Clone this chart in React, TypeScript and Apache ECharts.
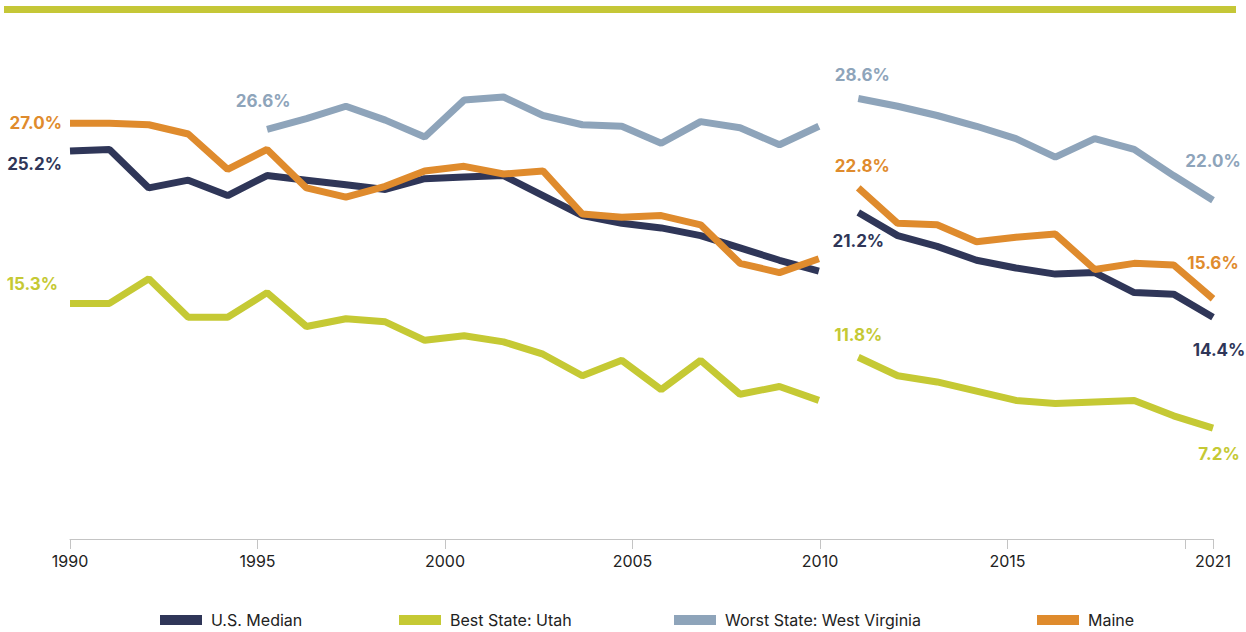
import React, { useEffect, useRef } from 'react';
import * as echarts from 'echarts';

// Hidden slot axis: one slot per plotted report (evenly spaced, as drawn in the original)
const slots = [
  '1990', '1991', '1992', '1993', '1994', '1995', '1996', '1997', '1998', '1999',
  '2000', '2001', '2002', '2003', '2004', '2005', '2006', '2007', '2008', '2009',
  '2012', '2013', '2014', '2015', '2016', '2017', '2018', '2019', '2020', '2021',
];

// Visible year axis tick labels
const yearTicks = [1990, 1995, 2000, 2005, 2010, 2015, 2019.75, 2020.48];
const yearTickLabels = ['1990', '1995', '2000', '2005', '2010', '2015', '', '2021'];

const seriesNames = ['U.S. Median', 'Best State: Utah', 'Worst State: West Virginia', 'Maine'];

const medianEarly = [25.2, 25.3, 22.8, 23.3, 22.3, 23.6, 23.3, 23.0, 22.7, 23.4, 23.5, 23.6, 22.3, 21.0, 20.5, 20.2, 19.7, 18.9, 18.1, 17.4];
const medianLate = [21.2, 19.7, 19.0, 18.1, 17.6, 17.2, 17.3, 16.0, 15.9, 14.4];

const utahEarly = [15.3, 15.3, 16.9, 14.4, 14.4, 16.0, 13.8, 14.3, 14.1, 12.9, 13.2, 12.8, 12.0, 10.6, 11.6, 9.7, 11.6, 9.4, 9.9, 9.0];
const utahLate = [11.8, 10.6, 10.2, 9.6, 9.0, 8.8, 8.9, 9.0, 8.0, 7.2];

const wvEarly = [null, null, null, null, null, 26.6, 27.3, 28.1, 27.2, 26.1, 28.5, 28.7, 27.5, 26.9, 26.8, 25.7, 27.1, 26.7, 25.6, 26.8];
const wvLate = [28.6, 28.1, 27.5, 26.8, 26.0, 24.8, 26.0, 25.3, 23.6, 22.0];

const maineEarly = [27.0, 27.0, 26.9, 26.3, 24.0, 25.3, 22.8, 22.2, 22.9, 23.9, 24.2, 23.7, 23.9, 21.1, 20.9, 21.0, 20.4, 17.9, 17.3, 18.2];
const maineLate = [22.8, 20.5, 20.4, 19.3, 19.6, 19.8, 17.5, 17.9, 17.8, 15.6];

const COLORS = ['#2f3658', '#c5c934', '#8ea4ba', '#df8b2d'];
const FONT = 'Inter, "Noto Sans", sans-serif';

type LabelSpec = { index: number; position: string; distance: number; offset?: number[] };

function buildData(values: (number | null)[], startSlot: number, color: string, labels: LabelSpec[]) {
  const out: any[] = [];
  for (let i = 0; i < startSlot; i++) out.push('-');
  values.forEach((v, i) => {
    if (v === null) {
      out.push('-');
      return;
    }
    const spec = labels.find((l) => l.index === i);
    if (spec) {
      out.push({
        value: v,
        label: {
          show: true,
          position: spec.position,
          distance: spec.distance,
          offset: spec.offset || [0, 0],
          formatter: (p: any) => `${Number(p.value).toFixed(1)}%`,
          color,
          fontFamily: FONT,
          fontWeight: 700,
          fontSize: 17,
        },
      });
    } else {
      out.push(v);
    }
  });
  return out;
}

function lineSeries(name: string, color: string, data: any[]) {
  return {
    name,
    type: 'line',
    xAxisIndex: 0,
    yAxisIndex: 0,
    data,
    showSymbol: true,
    symbol: 'circle',
    symbolSize: 0,
    connectNulls: false,
    silent: true,
    lineStyle: { color, width: 7 },
    itemStyle: { color },
    label: { show: false },
  };
}

export default function App() {
  const ref = useRef<HTMLDivElement>(null);

  useEffect(() => {
    if (!ref.current) return;
    const chart = echarts.init(ref.current, undefined, { renderer: 'svg' });
    const lateStart = medianEarly.length;

    const series = [
      lineSeries(seriesNames[0], COLORS[0], buildData(medianEarly, 0, COLORS[0], [
        { index: 0, position: 'left', distance: 8, offset: [0, 13] },
      ])),
      lineSeries(seriesNames[0], COLORS[0], buildData(medianLate, lateStart, COLORS[0], [
        { index: 0, position: 'bottom', distance: 20 },
        { index: medianLate.length - 1, position: 'bottom', distance: 24, offset: [6, 0] },
      ])),
      lineSeries(seriesNames[1], COLORS[1], buildData(utahEarly, 0, COLORS[1], [
        { index: 0, position: 'left', distance: 12, offset: [0, -19] },
      ])),
      lineSeries(seriesNames[1], COLORS[1], buildData(utahLate, lateStart, COLORS[1], [
        { index: 0, position: 'top', distance: 14 },
        { index: utahLate.length - 1, position: 'bottom', distance: 17, offset: [6, 0] },
      ])),
      lineSeries(seriesNames[2], COLORS[2], buildData(wvEarly, 0, COLORS[2], [
        { index: 5, position: 'top', distance: 20, offset: [-4, 0] },
      ])),
      lineSeries(seriesNames[2], COLORS[2], buildData(wvLate, lateStart, COLORS[2], [
        { index: 0, position: 'top', distance: 15, offset: [4, 0] },
        { index: wvLate.length - 1, position: 'top', distance: 31 },
      ])),
      lineSeries(seriesNames[3], COLORS[3], buildData(maineEarly, 0, COLORS[3], [
        { index: 0, position: 'left', distance: 8 },
      ])),
      lineSeries(seriesNames[3], COLORS[3], buildData(maineLate, lateStart, COLORS[3], [
        { index: 0, position: 'top', distance: 13, offset: [4, 0] },
        { index: maineLate.length - 1, position: 'top', distance: 27 },
      ])),
    ];

    const legendLefts = [158, 397, 672, 1035];
    const legends = seriesNames.map((name, i) => ({
      data: [name],
      left: legendLefts[i],
      top: 610,
      icon: 'rect',
      itemWidth: 42,
      itemHeight: 10,
      itemGap: 0,
      padding: 2,
      selectedMode: false,
      textStyle: { fontFamily: FONT, fontSize: 16, color: '#222222', padding: [0, 0, 0, 4] },
    }));

    chart.setOption({
      animation: false,
      backgroundColor: '#ffffff',
      textStyle: { fontFamily: FONT },
      color: COLORS,
      grid: { left: 70, right: 33, top: 0, height: 539, containLabel: false },
      legend: legends,
      xAxis: [
        {
          type: 'category',
          data: slots,
          boundaryGap: false,
          show: false,
          gridIndex: 0,
        },
        {
          type: 'value',
          gridIndex: 0,
          position: 'bottom',
          min: 1990,
          max: 2020.48,
          axisLine: { show: true, lineStyle: { color: '#c4c4c4', width: 1 } },
          axisTick: {
            show: true,
            customValues: yearTicks,
            length: 10,
            lineStyle: { color: '#c4c4c4', width: 1 },
          },
          axisLabel: {
            show: true,
            customValues: yearTicks,
            margin: 14,
            fontFamily: FONT,
            fontSize: 16,
            color: '#222222',
            formatter: (v: number) => {
              const idx = yearTicks.findIndex((t) => Math.abs(t - v) < 1e-6);
              return idx >= 0 ? yearTickLabels[idx] : '';
            },
          },
          splitLine: { show: false },
        },
      ],
      yAxis: {
        type: 'value',
        min: 0,
        max: 35,
        show: false,
        splitLine: { show: false },
      },
      graphic: [
        {
          type: 'rect',
          left: 4,
          top: 6,
          shape: { width: 1232, height: 7 },
          style: { fill: '#c5c737' },
          silent: true,
        },
      ],
      series,
    });

    return () => {
      chart.dispose();
    };
  }, []);

  return (
    <div
      ref={ref}
      style={{ position: 'fixed', left: 0, top: 0, width: '1246px', height: '632px', background: '#fff' }}
    />
  );
}
